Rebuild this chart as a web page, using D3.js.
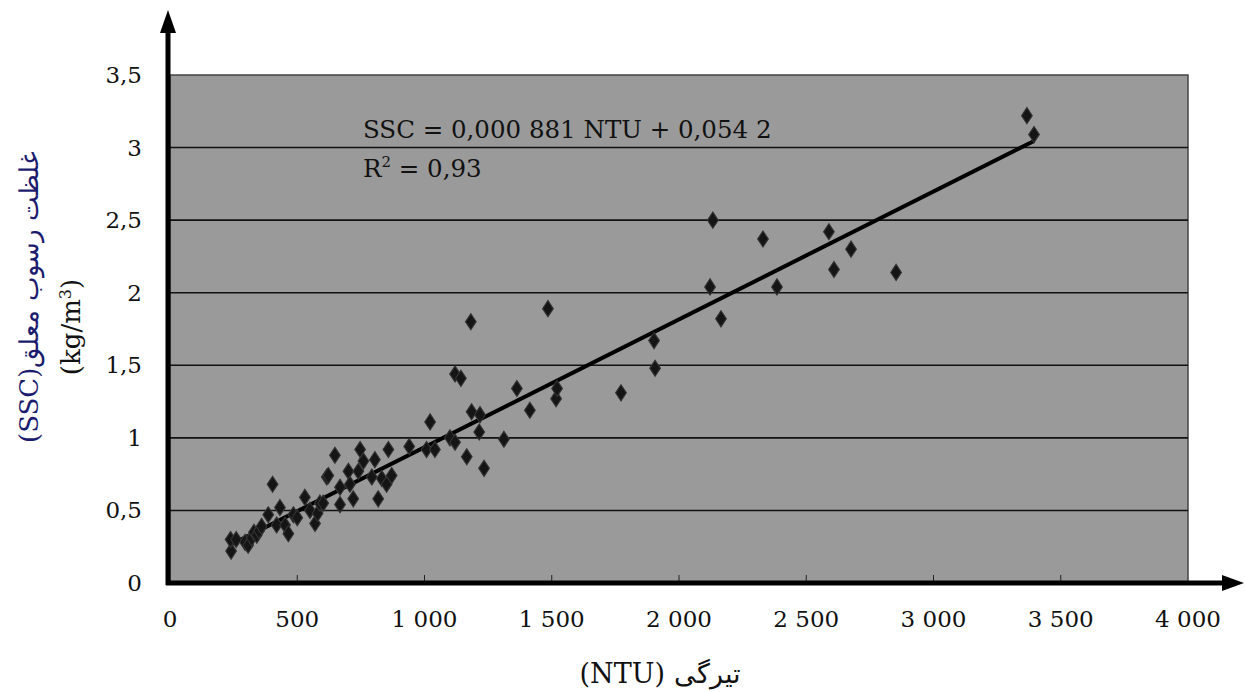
<!DOCTYPE html>
<html>
<head>
<meta charset="utf-8">
<script src="https://cdn.jsdelivr.net/npm/d3@7"></script>
<style>
body { margin: 0; background: #fff; }
text { font-family: "DejaVu Serif", "Liberation Serif", serif; }
</style>
</head>
<body>
<div id="chart"></div>
<script>
// turbidity (NTU) vs suspended sediment concentration (kg/m3)
var ntu = [240, 238, 260, 295, 307, 321, 330, 341, 350, 360, 386, 403, 419, 432, 452, 465, 485, 500,
    530, 550, 570, 580, 589, 602, 616, 622, 648, 668, 668, 701, 707, 720, 740, 747, 760, 793, 805,
    818, 832, 851, 858, 871, 940, 1008, 1022, 1041, 1100, 1120, 1120, 1143, 1166, 1182, 1185, 1215,
    1218, 1234, 1312, 1363, 1414, 1485, 1517, 1521, 1772, 1902, 1906, 2122, 2133, 2165, 2330, 2385,
    2589, 2609, 2676, 2853, 3367, 3395]
var ssc = [0.22, 0.30, 0.30, 0.28, 0.26, 0.31, 0.35, 0.33, 0.36, 0.39, 0.47, 0.68, 0.40, 0.52, 0.40, 0.34, 0.47, 0.45,
    0.59, 0.50, 0.41, 0.48, 0.55, 0.55, 0.73, 0.74, 0.88, 0.66, 0.54, 0.77, 0.68, 0.58, 0.77, 0.92, 0.84, 0.73, 0.85,
    0.58, 0.72, 0.68, 0.92, 0.74, 0.94, 0.92, 1.11, 0.92, 1.00, 0.97, 1.44, 1.41, 0.87, 1.80, 1.18, 1.04,
    1.16, 0.79, 0.99, 1.34, 1.19, 1.89, 1.27, 1.34, 1.31, 1.67, 1.48, 2.04, 2.50, 1.82, 2.37, 2.04,
    2.42, 2.16, 2.30, 2.14, 3.22, 3.09]

var xTicks = [0, 500, 1000, 1500, 2000, 2500, 3000, 3500, 4000]
var yTicks = [0, 0.5, 1, 1.5, 2, 2.5, 3, 3.5]

var slope = 0.000881
var intercept = 0.0542
var eqText = "SSC = 0,000 881 NTU + 0,054 2"
var xTitle = "تیرگی (NTU)"
var yTitle1 = "غلظت رسوب معلق(SSC)"

var w = 1245, h = 692
var pLeft = 170, pRight = 1188, pTop = 75, pBottom = 583

var svg = d3.select("#chart")
    .append("svg")
    .attr("width", w)
    .attr("height", h)

var x = d3.scaleLinear().domain([0, 4000]).range([pLeft, pRight])
var y = d3.scaleLinear().domain([0, 3.5]).range([pBottom, pTop])

function fmt(v) {
    // comma decimal, space as thousands separator
    var s = d3.format(",")(v).replace(/,/g, " ")
    return s.replace(".", ",")
}

svg.append("rect")
    .attr("x", pLeft)
    .attr("y", pTop)
    .attr("width", pRight - pLeft)
    .attr("height", pBottom - pTop)
    .style("fill", "#9a9a9a")
    .style("stroke", "#444")
    .style("stroke-width", 1.5)

// grid lines
svg.selectAll(".grid")
    .data(yTicks.filter(function(d) { return d > 0 && d < 3.5 }))
    .enter()
    .append("line")
    .attr("x1", pLeft)
    .attr("x2", pRight)
    .attr("y1", function(d) { return y(d) })
    .attr("y2", function(d) { return y(d) })
    .style("stroke", "#111")
    .style("stroke-width", 1.6)

// y tick labels
svg.selectAll(".ylab")
    .data(yTicks)
    .enter()
    .append("text")
    .attr("x", 142)
    .attr("y", function(d) { return y(d) + 8 })
    .attr("text-anchor", "end")
    .style("font-size", "23px")
    .style("fill", "#111")
    .text(fmt)

// x ticks + labels
svg.selectAll(".xtick")
    .data(xTicks.filter(function(d) { return d > 0 && d < 4000 }))
    .enter()
    .append("line")
    .attr("x1", function(d) { return x(d) })
    .attr("x2", function(d) { return x(d) })
    .attr("y1", pBottom)
    .attr("y2", pBottom - 8)
    .style("stroke", "#222")
    .style("stroke-width", 1)

svg.selectAll(".xlab")
    .data(xTicks)
    .enter()
    .append("text")
    .attr("x", function(d) { return x(d) })
    .attr("y", 627)
    .attr("text-anchor", "middle")
    .style("font-size", "23px")
    .style("fill", "#111")
    .text(fmt)

// regression line
var xmin = d3.min(ntu), xmax = d3.max(ntu)
svg.append("line")
    .attr("x1", x(xmin))
    .attr("y1", y(slope * xmin + intercept))
    .attr("x2", x(xmax))
    .attr("y2", y(slope * xmax + intercept))
    .style("stroke", "#000")
    .style("stroke-width", 4)

// points
var pts = ntu.map(function(d, i) { return [d, ssc[i]] })
var diamond = d3.symbol().type(d3.symbolDiamond).size(75)
svg.selectAll(".pt")
    .data(pts)
    .enter()
    .append("path")
    .attr("d", diamond)
    .attr("transform", function(d) { return "translate(" + x(d[0]) + "," + y(d[1]) + ") scale(1.15,1)" })
    .style("fill", "#151515")
    .style("stroke", "#333")
    .style("stroke-width", 1)

// axes with arrows
svg.append("line")
    .attr("x1", 168).attr("y1", pBottom + 2)
    .attr("x2", 168).attr("y2", 28)
    .style("stroke", "#000")
    .style("stroke-width", 5)
svg.append("path")
    .attr("d", "M168,10 L160,33 L176,33 Z")
    .style("fill", "#000")

svg.append("line")
    .attr("x1", 166).attr("y1", pBottom)
    .attr("x2", 1228).attr("y2", pBottom)
    .style("stroke", "#000")
    .style("stroke-width", 5)
svg.append("path")
    .attr("d", "M1244,583 L1222,575 L1222,591 Z")
    .style("fill", "#000")

// equation
svg.append("text")
    .attr("x", 363)
    .attr("y", 138)
    .style("font-size", "24.5px")
    .style("fill", "#111")
    .text(eqText)
var r2 = svg.append("text")
    .attr("x", 363)
    .attr("y", 177)
    .style("font-size", "24.5px")
    .style("fill", "#111")
r2.append("tspan").text("R")
r2.append("tspan").attr("dy", -10).style("font-size", "15px").text("2")
r2.append("tspan").attr("dy", 10).text(" = 0,93")

// axis titles
svg.append("text")
    .attr("x", 660)
    .attr("y", 683)
    .attr("text-anchor", "middle")
    .attr("direction", "rtl")
    .style("font-size", "27px")
    .style("fill", "#111")
    .text(xTitle)

svg.append("text")
    .attr("transform", "translate(38,297) rotate(-90)")
    .attr("text-anchor", "middle")
    .attr("direction", "rtl")
    .style("font-size", "26px")
    .style("fill", "#1c1c6e")
    .text(yTitle1)

var yt2 = svg.append("text")
    .attr("transform", "translate(80,327) rotate(-90)")
    .attr("text-anchor", "middle")
    .style("font-size", "26px")
    .style("fill", "#111")
yt2.append("tspan").text("(kg/m")
yt2.append("tspan").attr("dy", -9).style("font-size", "16px").text("3")
yt2.append("tspan").attr("dy", 9).text(")")
</script>
</body>
</html>
